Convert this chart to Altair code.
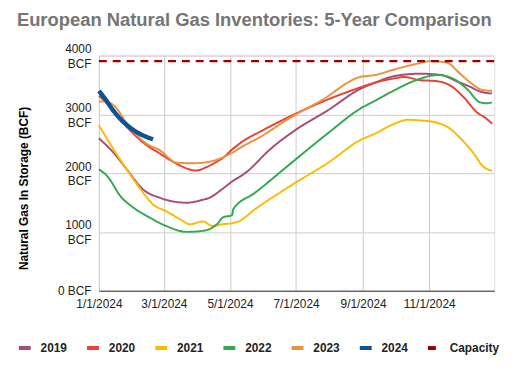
import altair as alt
import pandas as pd

series_names = ["2019", "2020", "2021", "2022", "2023", "2024", "Capacity"]
series_colors = ["#a64d79", "#ea4335", "#fbbc04", "#34a853", "#eb923a", "#0b5394", "#990000"]

d2019 = ["2024-01-01", "2024-01-15", "2024-01-27", "2024-02-11", "2024-02-26", "2024-03-22",
         "2024-04-05", "2024-04-12", "2024-04-24", "2024-05-03", "2024-05-15", "2024-06-08",
         "2024-06-30", "2024-07-30", "2024-08-29", "2024-09-12", "2024-09-30", "2024-10-24",
         "2024-11-12", "2024-11-27", "2024-12-09", "2024-12-18", "2024-12-29"]
v2019 = [2592, 2339, 2057, 1719, 1583, 1497, 1543, 1580, 1731, 1858, 2000, 2420,
         2728, 3064, 3429, 3539, 3652, 3691, 3669, 3557, 3467, 3388, 3355]

d2020 = ["2024-01-01", "2024-01-15", "2024-01-27", "2024-02-14", "2024-02-26", "2024-03-13",
         "2024-03-31", "2024-04-09", "2024-04-21", "2024-04-24", "2024-05-03", "2024-05-12",
         "2024-05-30", "2024-06-24", "2024-07-24", "2024-08-29", "2024-09-12", "2024-09-30",
         "2024-10-09", "2024-10-24", "2024-11-06", "2024-11-21", "2024-12-03", "2024-12-15",
         "2024-12-24", "2024-12-29"]
v2020 = [3318, 3055, 2783, 2476, 2336, 2156, 2044, 2100, 2218, 2252, 2403, 2531,
         2716, 2952, 3204, 3456, 3539, 3613, 3635, 3580, 3568, 3484, 3287, 3035,
         2924, 2841]

d2021 = ["2024-01-01", "2024-01-15", "2024-01-27", "2024-02-11", "2024-02-20", "2024-03-03",
         "2024-03-16", "2024-03-25", "2024-04-06", "2024-04-15", "2024-04-24", "2024-05-03",
         "2024-05-08", "2024-05-24", "2024-06-30", "2024-07-30", "2024-08-29", "2024-09-12",
         "2024-09-30", "2024-10-12", "2024-10-24", "2024-11-06", "2024-11-18", "2024-11-30",
         "2024-12-12", "2024-12-21", "2024-12-29"]
v2021 = [2813, 2392, 2055, 1664, 1467, 1354, 1215, 1131, 1177, 1102, 1131, 1148,
         1170, 1384, 1832, 2168, 2559, 2672, 2841, 2907, 2896, 2867, 2783, 2589,
         2336, 2111, 2044]

d2022 = ["2024-01-01", "2024-01-09", "2024-01-21", "2024-02-02", "2024-02-17", "2024-03-03",
         "2024-03-22", "2024-04-06", "2024-04-21", "2024-04-24", "2024-05-03", "2024-05-04",
         "2024-05-24", "2024-06-30", "2024-07-30", "2024-08-29", "2024-09-12", "2024-09-30",
         "2024-10-18", "2024-11-09", "2024-11-24", "2024-12-06", "2024-12-18", "2024-12-24",
         "2024-12-29"]
v2022 = [2067, 1943, 1606, 1412, 1243, 1102, 1001, 1018, 1170, 1243, 1288, 1384,
         1664, 2224, 2672, 3093, 3232, 3411, 3568, 3669, 3597, 3429, 3204, 3187,
         3204]

d2023 = ["2024-01-01", "2024-01-06", "2024-01-15", "2024-01-27", "2024-02-14", "2024-02-26",
         "2024-03-13", "2024-03-28", "2024-04-12", "2024-05-03", "2024-05-12", "2024-05-30",
         "2024-06-24", "2024-07-24", "2024-08-29", "2024-09-12", "2024-09-30", "2024-10-18",
         "2024-11-03", "2024-11-18", "2024-11-27", "2024-12-09", "2024-12-21", "2024-12-29"]
v2023 = [3220, 3217, 3148, 2841, 2501, 2392, 2178, 2168, 2195, 2347, 2447, 2627,
         2924, 3232, 3635, 3669, 3764, 3849, 3905, 3875, 3736, 3539, 3411, 3400]

d2024 = ["2024-01-01", "2024-01-06", "2024-01-15", "2024-01-24", "2024-02-07", "2024-02-20"]
v2024 = [3398, 3282, 3045, 2864, 2677, 2576]

dcap = ["2024-01-01", "2024-12-31"]
vcap = [3905, 3905]

y_ticks = [0, 1000, 2000, 3000, 4000]

rows = []
for name, ds, vs in [("2019", d2019, v2019), ("2020", d2020, v2020), ("2021", d2021, v2021),
                     ("2022", d2022, v2022), ("2023", d2023, v2023), ("2024", d2024, v2024),
                     ("Capacity", dcap, vcap)]:
    for d, v in zip(ds, vs):
        rows.append({"date": pd.Timestamp(d), "value": v, "series": name})
df = pd.DataFrame(rows)

x_ticks = [alt.DateTime(year=2024, month=m, date=1) for m in [1, 3, 5, 7, 9, 11]]

legend_opts = dict(title=None, orient="none", direction="horizontal",
                   legendX=-83, legendY=288,
                   labelFont="Liberation Sans", labelFontSize=12,
                   labelFontWeight="bold", labelColor="#222222",
                   symbolType="stroke", symbolSize=144,
                   symbolStrokeWidth=4, labelOffset=8,
                   columnPadding=12, padding=0)

enc = dict(
    x=alt.X("date:T",
            scale=alt.Scale(domain=[alt.DateTime(year=2024, month=1, date=1),
                                    alt.DateTime(year=2024, month=12, date=31)]),
            axis=alt.Axis(title=None, values=x_ticks, format="%-m/%-d/%Y",
                          labelFontSize=12, labelColor="#222222", labelFont="Liberation Sans",
                          labelPadding=8, ticks=False, domainColor="#333333",
                          gridColor="#cccccc", labelFlush=False)),
    y=alt.Y("value:Q",
            scale=alt.Scale(domain=[0, 4000], nice=False),
            axis=alt.Axis(title="Natural Gas In Storage (BCF)", values=y_ticks, format="d",
                          labelExpr="datum.value == 0 ? '0 BCF' : [datum.label, 'BCF']",
                          labelOffset={"condition": {"test": "datum.value == 0", "value": 0},
                                       "value": -7},
                          labelFontSize=12, labelColor="#222222", labelFont="Liberation Sans",
                          labelLineHeight=15, labelPadding=8, ticks=False, domain=False,
                          gridColor="#cccccc",
                          titleFont="Liberation Sans", titleFontSize=12, titleFontWeight="bold",
                          titleColor="#000000", titleX=-76, titleY=134, titleAngle=-90,
                          titleAlign="center", titleBaseline="middle")),
    color=alt.Color("series:N",
                    scale=alt.Scale(domain=series_names, range=series_colors),
                    legend=alt.Legend(**legend_opts)),
    strokeDash=alt.StrokeDash("series:N",
                              scale=alt.Scale(domain=series_names,
                                              range=[[1, 0]] * 6 + [[8, 6]]),
                              legend=alt.Legend(**legend_opts)),
)

base = alt.Chart(df)
years = base.mark_line(interpolate="monotone", strokeWidth=2).encode(**enc).transform_filter(
    "datum.series != '2024' && datum.series != 'Capacity'")
capacity = base.mark_line(strokeWidth=2.5).encode(**enc).transform_filter(
    "datum.series == 'Capacity'")
current = base.mark_line(interpolate="monotone", strokeWidth=4.5).encode(**enc).transform_filter(
    "datum.series == '2024'")

chart = alt.layer(years, capacity, current).properties(
    width=400,
    height=238,
    autosize=alt.AutoSizeParams(type="none"),
    padding={"left": 92, "top": 46, "right": 16, "bottom": 70},
    title=alt.Title("European Natural Gas Inventories: 5-Year Comparison",
                    anchor="start", fontSize=18.6, font="Liberation Sans",
                    fontWeight="bold", color="#757575", offset=13),
).configure_view(stroke=None).configure(background="white")

chart.save("out.html", embed_options={"renderer": "svg", "actions": False})
